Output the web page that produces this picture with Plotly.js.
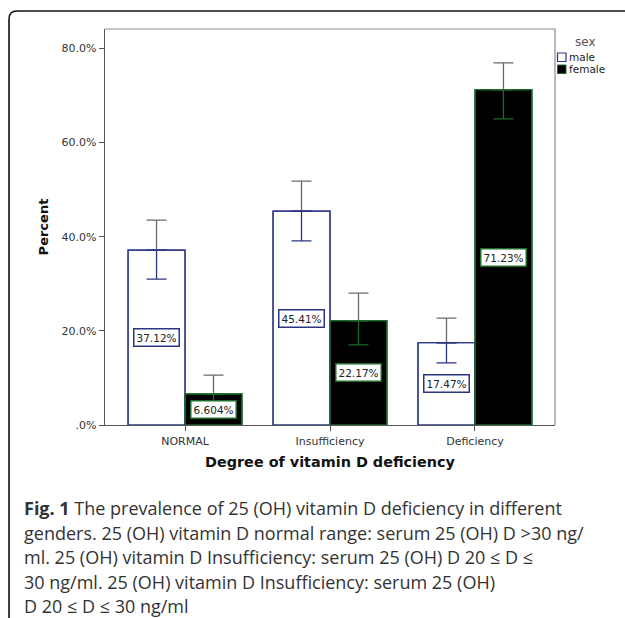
<!DOCTYPE html>
<html>
<head>
<meta charset="utf-8">
<script src="https://cdn.plot.ly/plotly-3.0.1.min.js"></script>
<style>html,body{margin:0;padding:0;background:#fff;}#chart{width:625px;height:618px;}</style>
</head>
<body>
<div id="chart"></div>
<script>
// ---- data ----
const categories = ["NORMAL", "Insufficiency", "Deficiency"];
const seriesNames = ["male", "female"];
const malePct = [37.12, 45.41, 17.47];
const femalePct = [6.604, 22.17, 71.23];
const maleHi = [43.5, 51.8, 22.7];
const maleLo = [31.0, 39.1, 13.2];
const femaleHi = [10.6, 28.0, 76.9];
const femaleLo = [4.2, 17.0, 65.0];
const maleLabels = ["37.12%", "45.41%", "17.47%"];
const femaleLabels = ["6.604%", "22.17%", "71.23%"];
const yTickVals = [0, 20, 40, 60, 80];
const yTickText = [".0%", "20.0%", "40.0%", "60.0%", "80.0%"];
const legendTitle = "sex";
const xTitle = "Degree of vitamin D deficiency";
const yTitle = "Percent";
const captionLines = [
  "<b>Fig. 1</b> The prevalence of 25 (OH) vitamin D deficiency in different",
  "genders. 25 (OH) vitamin D normal range: serum 25 (OH) D &gt;30 ng/",
  "ml. 25 (OH) vitamin D Insufficiency: serum 25 (OH) D 20 ≤ D ≤",
  "30 ng/ml. 25 (OH) vitamin D Insufficiency: serum 25 (OH)",
  "D 20 ≤ D ≤ 30 ng/ml"
];

// ---- styles ----
const W = 625, H = 618;
const M = {l: 105, r: 70, t: 29, b: 193};
const pw = W - M.l - M.r, ph = H - M.t - M.b;
const px2x = p => (p - M.l) / pw;
const px2y = p => (H - M.b - p) / ph;
const maleLine = "#2a3585", femaleLine = "#1d6a2a", errGray = "#6a6a6a";
const chartFamily = "DejaVu Sans, Verdana, sans-serif";
const barFont = {family: chartFamily, size: 10.5, color: "#222"};

const up = (hi, v) => hi.map((h, i) => h - v[i]);
const down = (lo, v) => v.map((x, i) => x - lo[i]);
const zeros = categories.map(() => 0);

const traces = [
  {type: "bar", name: seriesNames[0], x: categories, y: malePct, offsetgroup: "m",
   marker: {color: "#ffffff", line: {color: maleLine, width: 1.2}},
   error_y: {type: "data", symmetric: false, array: up(maleHi, malePct), arrayminus: zeros, color: errGray, thickness: 1.3, width: 10},
   showlegend: false},
  {type: "bar", name: seriesNames[1], x: categories, y: femalePct, offsetgroup: "f",
   marker: {color: "#000000", line: {color: femaleLine, width: 1.2}},
   error_y: {type: "data", symmetric: false, array: up(femaleHi, femalePct), arrayminus: zeros, color: errGray, thickness: 1.3, width: 10},
   showlegend: false},
  {type: "bar", name: seriesNames[0] + " CI", x: categories, y: malePct, offsetgroup: "m",
   marker: {color: "rgba(0,0,0,0)", line: {color: maleLine, width: 1.2}},
   error_y: {type: "data", symmetric: false, array: zeros, arrayminus: down(maleLo, malePct), color: maleLine, thickness: 1.3, width: 10},
   showlegend: false, hoverinfo: "skip"},
  {type: "bar", name: seriesNames[1] + " CI", x: categories, y: femalePct, offsetgroup: "f",
   marker: {color: "rgba(0,0,0,0)", line: {color: femaleLine, width: 1.2}},
   error_y: {type: "data", symmetric: false, array: zeros, arrayminus: down(femaleLo, femalePct), color: femaleLine, thickness: 1.3, width: 10},
   showlegend: false, hoverinfo: "skip"}
];

const annotations = [];
const halfBar = 28.5;
categories.forEach((c, i) => {
  annotations.push({x: c, y: malePct[i] / 2, xref: "x", yref: "y", xshift: -halfBar, text: maleLabels[i],
    showarrow: false, bgcolor: "#fff", bordercolor: maleLine, borderwidth: 1.5, borderpad: 2, font: barFont});
  annotations.push({x: c, y: femalePct[i] / 2, xref: "x", yref: "y", xshift: halfBar, text: femaleLabels[i],
    showarrow: false, bgcolor: "#fff", bordercolor: femaleLine, borderwidth: 1.5, borderpad: 2, font: barFont});
});

// caption
const capFont = {family: "Open Sans, Noto Sans, sans-serif", size: 18, color: "#333"};
captionLines.forEach((t, i) => {
  annotations.push({xref: "paper", yref: "paper", x: px2x(22), y: px2y(508 + i * 24.6), xanchor: "left", yanchor: "middle",
    text: t, showarrow: false, align: "left", font: capFont});
});

// legend (manual)
const legFont = {family: chartFamily, size: 10.5, color: "#222"};
annotations.push({xref: "paper", yref: "paper", x: px2x(585), y: px2y(42), text: legendTitle, showarrow: false,
  font: {family: chartFamily, size: 12, color: "#555"}, xanchor: "center", yanchor: "middle"});
annotations.push({xref: "paper", yref: "paper", x: px2x(566.5), y: px2y(57), text: seriesNames[0], showarrow: false, font: legFont, xanchor: "left", yanchor: "middle"});
annotations.push({xref: "paper", yref: "paper", x: px2x(566.5), y: px2y(69), text: seriesNames[1], showarrow: false, font: legFont, xanchor: "left", yanchor: "middle"});

const shapes = [
  // outer figure frame (left + rounded top-left corner + top)
  {type: "path", xref: "paper", yref: "paper", layer: "above",
   path: `M ${px2x(9)},${px2y(620)} L ${px2x(9)},${px2y(19)} Q ${px2x(9)},${px2y(11)} ${px2x(17)},${px2y(11)} L ${px2x(626)},${px2y(11)}`,
   line: {color: "#111", width: 1.6}},
  // plot frame top/right
  {type: "path", xref: "paper", yref: "paper", layer: "below",
   path: "M 0,1 L 1,1 L 1,0", line: {color: "#8c8c8c", width: 1.2}},
  // legend boxes
  {type: "rect", xref: "paper", yref: "paper", x0: px2x(557.5), x1: px2x(566), y0: px2y(53), y1: px2y(61.5),
   fillcolor: "#fff", line: {color: maleLine, width: 1.2}},
  {type: "rect", xref: "paper", yref: "paper", x0: px2x(557.5), x1: px2x(566), y0: px2y(65), y1: px2y(73.5),
   fillcolor: "#000", line: {color: femaleLine, width: 1}}
];

const tickFont = {family: chartFamily, size: 11, color: "#333"};
const layout = {
  width: W, height: H,
  margin: M,
  paper_bgcolor: "#fff", plot_bgcolor: "#fff",
  barmode: "group", bargap: 0.214, bargroupgap: 0,
  showlegend: false,
  xaxis: {type: "category", categoryorder: "array", categoryarray: categories, range: [-0.552, 2.552],
    showline: true, linecolor: "#555", linewidth: 1.3, ticks: "outside", ticklen: 5, tickcolor: "#555",
    tickfont: tickFont, showgrid: false, zeroline: false,
    title: {text: xTitle, standoff: 10, font: {family: chartFamily, size: 14.4, color: "#111", weight: "bold"}}},
  yaxis: {range: [0, 84.1], tickvals: yTickVals, ticktext: yTickText,
    showline: true, linecolor: "#555", linewidth: 1.3, ticks: "outside", ticklen: 5, tickcolor: "#555",
    tickfont: tickFont, showgrid: false, zeroline: false,
    title: {text: yTitle, standoff: 10, font: {family: chartFamily, size: 13, color: "#111", weight: "bold"}}},
  annotations: annotations,
  shapes: shapes
};

Plotly.newPlot("chart", traces, layout, {displayModeBar: false, staticPlot: true});
</script>
</body>
</html>
